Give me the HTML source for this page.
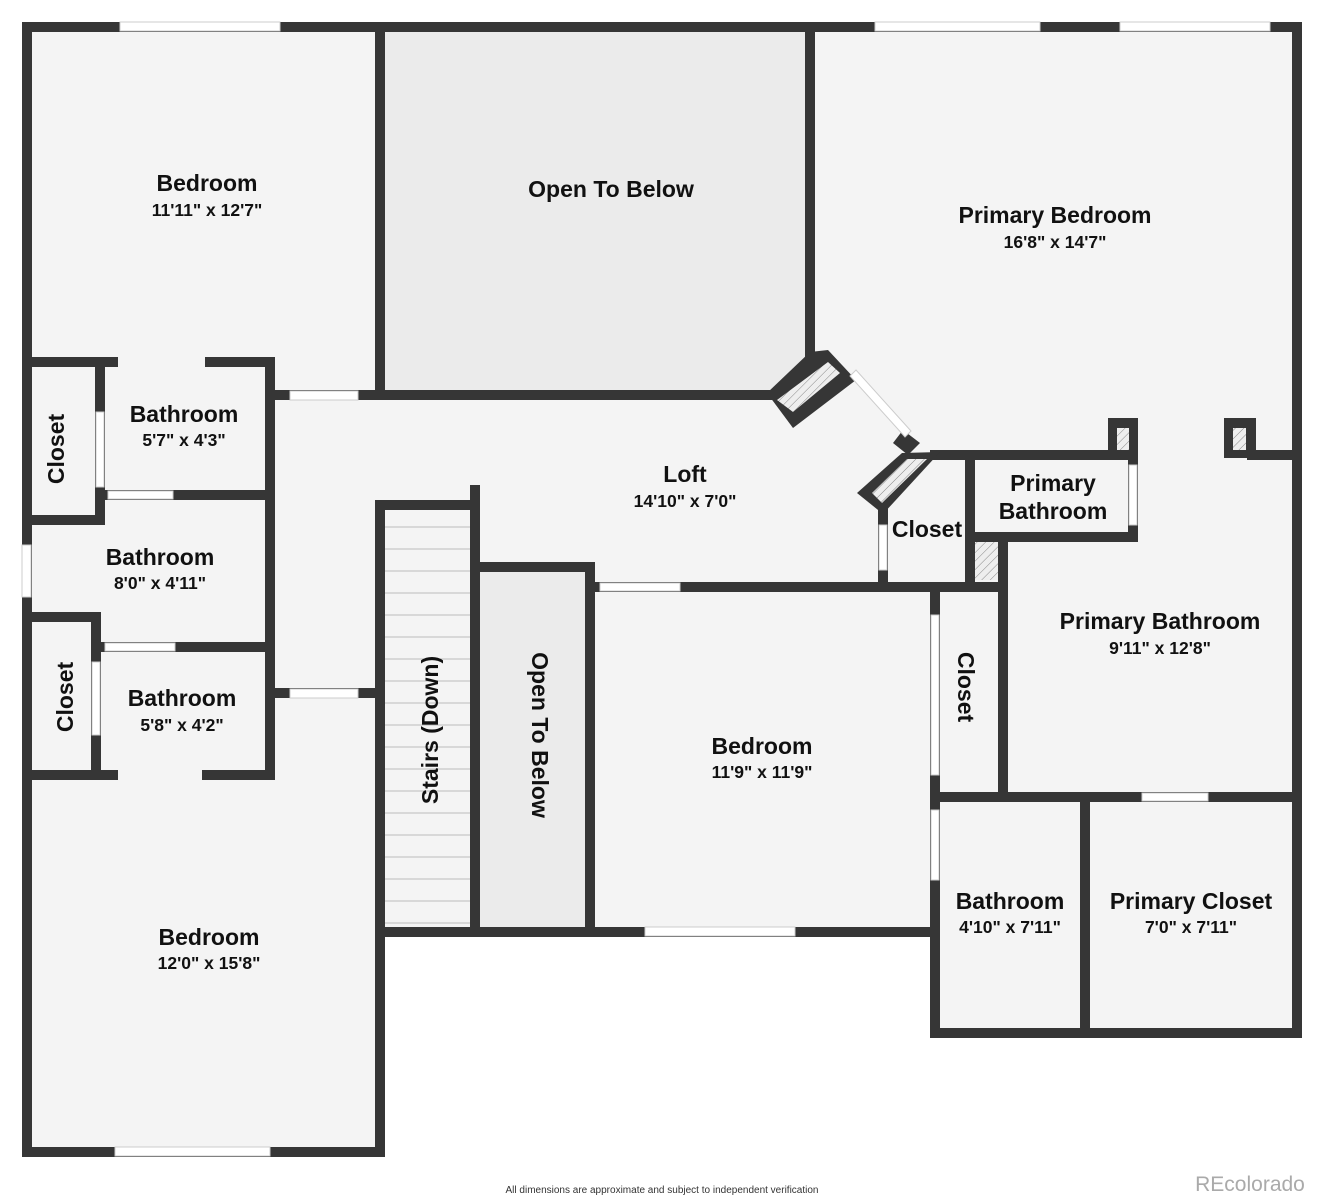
<!DOCTYPE html>
<html><head><meta charset="utf-8"><style>
html,body{margin:0;padding:0;background:#fff;}
svg{display:block;}
text{font-family:"Liberation Sans","DejaVu Sans",sans-serif;font-weight:bold;fill:#111;text-anchor:middle;}
.n{font-size:23px;}
.d{font-size:17.5px;}
</style></head><body>
<svg width="1324" height="1200" viewBox="0 0 1324 1200" xmlns="http://www.w3.org/2000/svg">
<defs>
<pattern id="h" width="6" height="6" patternUnits="userSpaceOnUse" patternTransform="rotate(45)"><rect width="6" height="6" fill="#eee"/><line x1="0" y1="0" x2="0" y2="6" stroke="#888" stroke-width="1"/></pattern>
</defs>
<polygon points="27,27 1297,27 1297,1033 935,1033 935,932 380,932 380,1152 27,1152" fill="#f4f4f4"/>
<rect x="380" y="27" width="430" height="368" fill="#ebebeb"/>
<rect x="480" y="567" width="110" height="365" fill="#ebebeb"/>
<g stroke="#bbb" stroke-width="1">
<line x1="385" y1="527" x2="472" y2="527"/><line x1="385" y1="549" x2="472" y2="549"/><line x1="385" y1="571" x2="472" y2="571"/><line x1="385" y1="593" x2="472" y2="593"/><line x1="385" y1="615" x2="472" y2="615"/><line x1="385" y1="637" x2="472" y2="637"/><line x1="385" y1="659" x2="472" y2="659"/><line x1="385" y1="681" x2="472" y2="681"/><line x1="385" y1="703" x2="472" y2="703"/><line x1="385" y1="725" x2="472" y2="725"/><line x1="385" y1="747" x2="472" y2="747"/><line x1="385" y1="769" x2="472" y2="769"/><line x1="385" y1="791" x2="472" y2="791"/><line x1="385" y1="813" x2="472" y2="813"/><line x1="385" y1="835" x2="472" y2="835"/><line x1="385" y1="857" x2="472" y2="857"/><line x1="385" y1="879" x2="472" y2="879"/><line x1="385" y1="901" x2="472" y2="901"/><line x1="385" y1="923" x2="472" y2="923"/>
</g>
<rect x="975" y="540" width="26" height="40" fill="url(#h)"/>
<g stroke="#363636" stroke-width="10" fill="none" stroke-linecap="square">
<polyline points="27,27 1297,27 1297,1033 935,1033 935,932 380,932 380,1152 27,1152 27,27"/>
<line x1="380" y1="27" x2="380" y2="395"/>
<line x1="380" y1="395" x2="775" y2="395"/>
<line x1="810" y1="27" x2="810" y2="352"/>
<line x1="270" y1="395" x2="380" y2="395"/>
<line x1="27" y1="362" x2="113" y2="362"/>
<line x1="210" y1="362" x2="270" y2="362"/>
<line x1="270" y1="362" x2="270" y2="775"/>
<line x1="100" y1="362" x2="100" y2="520"/>
<line x1="27" y1="520" x2="100" y2="520"/>
<line x1="100" y1="495" x2="270" y2="495"/>
<line x1="27" y1="617" x2="96" y2="617"/>
<line x1="96" y1="617" x2="96" y2="775"/>
<line x1="96" y1="647" x2="270" y2="647"/>
<line x1="27" y1="775" x2="113" y2="775"/>
<line x1="207" y1="775" x2="270" y2="775"/>
<line x1="270" y1="693" x2="380" y2="693"/>
<line x1="380" y1="505" x2="380" y2="932"/>
<line x1="475" y1="490" x2="475" y2="932"/>
<line x1="380" y1="505" x2="475" y2="505"/>
<line x1="475" y1="567" x2="590" y2="567"/>
<line x1="590" y1="567" x2="590" y2="932"/>
<line x1="590" y1="587" x2="1003" y2="587"/>
<line x1="935" y1="587" x2="935" y2="1033"/>
<line x1="1003" y1="537" x2="1003" y2="797"/>
<line x1="935" y1="797" x2="1297" y2="797"/>
<line x1="1085" y1="797" x2="1085" y2="1033"/>
<line x1="935" y1="455" x2="1133" y2="455"/>
<line x1="970" y1="455" x2="970" y2="583"/>
<line x1="970" y1="537" x2="1133" y2="537"/>
<line x1="1133" y1="455" x2="1133" y2="537"/>
<line x1="1252" y1="455" x2="1297" y2="455"/>
<line x1="883" y1="510" x2="883" y2="587"/>
</g>
<!-- pillar boxes -->
<rect x="1108" y="418" width="30" height="40" fill="#363636"/>
<rect x="1117" y="428" width="12" height="22" fill="url(#h)"/>
<rect x="1224" y="418" width="32" height="40" fill="#363636"/>
<rect x="1233" y="428" width="13" height="22" fill="url(#h)"/>
<!-- diagonal blocks -->
<polygon points="767,393 810,352 828,350 856,380 793,428" fill="#363636"/>
<polygon points="777,400 828,362 840,373 793,412" fill="url(#h)"/>
<polygon points="857,493 902,453 940,452 883,514" fill="#363636"/>
<polygon points="872,493 907,459 927,459 882,503" fill="url(#h)"/>
<polygon points="903,430 920,443 908,455 893,443" fill="#363636"/>
<g fill="#fff" stroke="#ccc" stroke-width="1">
<rect x="120" y="22" width="160" height="9"/>
<rect x="875" y="22" width="165" height="9"/>
<rect x="1120" y="22" width="150" height="9"/>
<rect x="115" y="1147" width="155" height="9"/>
<rect x="645" y="927" width="150" height="9"/>
<rect x="22" y="545" width="9" height="52"/>
<rect x="290" y="391" width="68" height="9"/>
<rect x="290" y="689" width="68" height="9"/>
<rect x="96" y="412" width="8" height="75"/>
<rect x="108" y="491" width="65" height="8"/>
<rect x="92" y="662" width="8" height="73"/>
<rect x="105" y="643" width="70" height="8"/>
<rect x="600" y="583" width="80" height="8"/>
<rect x="931" y="615" width="8" height="160"/>
<rect x="931" y="810" width="8" height="70"/>
<rect x="1142" y="793" width="66" height="8"/>
<rect x="1129" y="465" width="8" height="60"/>
<rect x="879" y="525" width="8" height="45"/>
</g>
<polygon points="850,376 856,370 911,431 905,437" fill="#fff" stroke="#ccc"/>
<text class="n" x="207" y="191">Bedroom</text><text class="d" x="207" y="216">11'11" x 12'7"</text>
<text class="n" x="611" y="197">Open To Below</text>
<text class="n" x="1055" y="223">Primary Bedroom</text><text class="d" x="1055" y="248">16'8" x 14'7"</text>
<text class="n" x="184" y="422">Bathroom</text><text class="d" x="184" y="446">5'7" x 4'3"</text>
<text class="n" x="160" y="565">Bathroom</text><text class="d" x="160" y="589">8'0" x 4'11"</text>
<text class="n" x="182" y="706">Bathroom</text><text class="d" x="182" y="731">5'8" x 4'2"</text>
<text class="n" x="685" y="482">Loft</text><text class="d" x="685" y="507">14'10" x 7'0"</text>
<text class="n" x="1053" y="491">Primary</text><text class="n" x="1053" y="519">Bathroom</text>
<text class="n" x="927" y="537">Closet</text>
<text class="n" x="1160" y="629">Primary Bathroom</text><text class="d" x="1160" y="654">9'11" x 12'8"</text>
<text class="n" x="762" y="754">Bedroom</text><text class="d" x="762" y="778">11'9" x 11'9"</text>
<text class="n" x="1010" y="909">Bathroom</text><text class="d" x="1010" y="933">4'10" x 7'11"</text>
<text class="n" x="1191" y="909">Primary Closet</text><text class="d" x="1191" y="933">7'0" x 7'11"</text>
<text class="n" x="209" y="945">Bedroom</text><text class="d" x="209" y="969">12'0" x 15'8"</text>
<text class="n" transform="translate(64,449) rotate(-90)">Closet</text>
<text class="n" transform="translate(73,697) rotate(-90)">Closet</text>
<text class="n" transform="translate(438,730) rotate(-90)">Stairs (Down)</text>
<text class="n" transform="translate(532,735) rotate(90)">Open To Below</text>
<text class="n" transform="translate(958,687) rotate(90)">Closet</text>
<text x="662" y="1193" style="font-size:10px;font-weight:normal;fill:#333">All dimensions are approximate and subject to independent verification</text>
<text x="1250" y="1191" style="font-size:21px;font-weight:normal;fill:#aaa">REcolorado</text>
</svg>
</body></html>
